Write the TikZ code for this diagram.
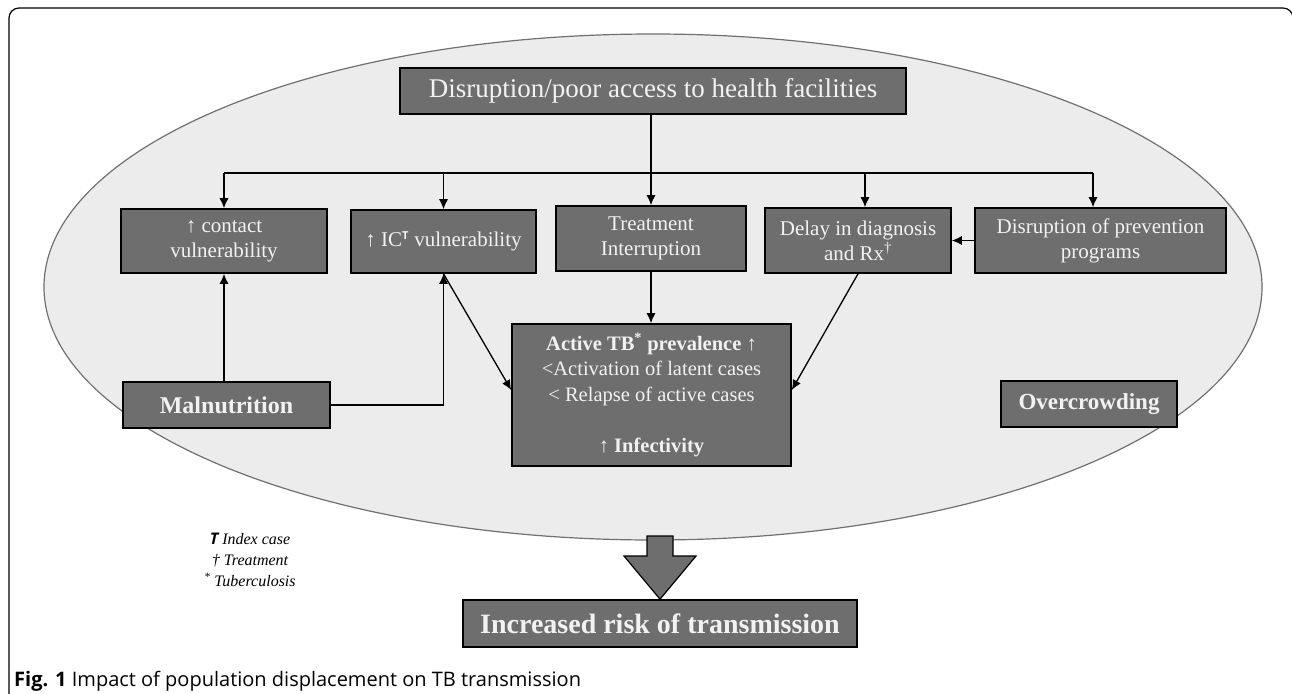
\documentclass[tikz,border=0pt]{standalone}
\usepackage{fontspec}
\setmainfont{Liberation Serif}
\setsansfont{Open Sans}
\usetikzlibrary{arrows.meta,positioning}
\definecolor{boxgray}{RGB}{110,110,110}
\definecolor{ellgray}{RGB}{236,236,236}
\definecolor{ellline}{RGB}{112,112,112}
\definecolor{boxtext}{RGB}{242,242,242}
\tikzset{
  box/.style={draw=black, line width=1.6pt, fill=boxgray, text=boxtext, align=center, inner sep=0pt},
  conn/.style={line width=1.3pt, -{Latex[length=10pt,width=9pt]}},
  plain/.style={line width=1.3pt},
}
\newcommand{\icmark}{{\sffamily\bfseries T}}
\newcommand{\boxfont}{\fontsize{21}{25}\selectfont}

\begin{document}
\begin{tikzpicture}[x=1pt,y=-1pt]
\useasboundingbox (0,0) rectangle (1292,693);

%frame
\draw [line width=1.2pt, rounded corners=10pt] (9,700) -- (9,8) -- (1293,8) -- (1293,60) ;

%ellipse
\draw [ellline, line width=1.2pt, fill=ellgray] (653,287) ellipse [x radius=609, y radius=253] ;

%nodes
\node [box, minimum width=506, minimum height=46, font=\fontsize{27}{30}\selectfont] (top) at (653,91) {Disruption/poor access to health facilities};
\node [box, minimum width=206, minimum height=64, font=\boxfont] (contact) at (224,241) {↑ contact\\vulnerability};
\node [box, minimum width=185, minimum height=63, font=\boxfont] (ic) at (443.5,241.5) {↑ IC\textsuperscript{\fontsize{11}{11}\selectfont\icmark} vulnerability};
\node [box, minimum width=190, minimum height=65, font=\boxfont] (treat) at (651,238.5) {Treatment\\Interruption};
\node [box, minimum width=186, minimum height=65, font=\boxfont] (delay) at (858,240.5) {Delay in diagnosis\\and Rx\textsuperscript{†}};
\node [box, minimum width=251, minimum height=65, font=\boxfont] (prev) at (1100.5,240.5) {Disruption of prevention\\programs};
\node [box, minimum width=279, minimum height=142, font=\fontsize{20.5}{25.5}\selectfont] (active) at (651.5,395) {\textbf{Active TB\textsuperscript{*} prevalence ↑}\\<Activation of latent cases\\< Relapse of active cases\\[25.5pt]\textbf{↑ Infectivity}};
\node [box, minimum width=207, minimum height=46, font=\fontsize{24}{28}\selectfont\bfseries] (malnut) at (226.5,405) {Malnutrition};
\node [box, minimum width=176, minimum height=46, font=\fontsize{23}{27}\selectfont\bfseries] (crowd) at (1089,404) {Overcrowding};
\node [box, minimum width=394, minimum height=47, font=\fontsize{28}{32}\selectfont\bfseries] (risk) at (660,623.5) {Increased risk of transmission};

%legend
\node [align=center, font=\fontsize{16}{21}\selectfont\itshape] (legend) at (250,560) {\icmark\ Index case\\† Treatment\\\textsuperscript{*} Tuberculosis};

%caption
\node [anchor=west, inner sep=0pt, font=\sffamily\fontsize{20}{22}\selectfont] (caption) at (14,681) {\textbf{Fig. 1} Impact of population displacement on TB transmission};

%bus
\coordinate (busL) at (224,173);
\coordinate (busR) at (1093,173);
\coordinate (dIC) at (443.5,173);
\coordinate (dDelay) at (865,173);
\draw [plain] (busL) -- (busR) ;
\draw [conn] (top.south -| treat.north) -- (treat.north) ;
\draw [conn] (busL) -- (contact.north) ;
\draw [conn] (dIC) -- (ic.north) ;
\draw [conn] (dDelay) -- (dDelay |- delay.north) ;
\draw [conn] (busR) -- (busR |- prev.north) ;

%links
\draw [conn] (prev.west) -- (delay.east) ;
\draw [conn] (treat.south) -- (treat.south |- active.north) ;
\draw [conn] (malnut.north -| contact.south) -- (contact.south) ;
\draw [conn] (malnut.east) -| (ic.south) ;
\draw [conn] (ic.south) -- ([yshift=5pt]active.west) ;
\draw [conn] (delay.south) -- ([yshift=5pt]active.east) ;

%block arrow
\draw [line width=1.2pt, fill=boxgray] (647,536) -- (673,536) -- (673,556) -- (696,556) -- (risk.north) -- (624,556) -- (647,556) -- cycle ;
\end{tikzpicture}
\end{document}
